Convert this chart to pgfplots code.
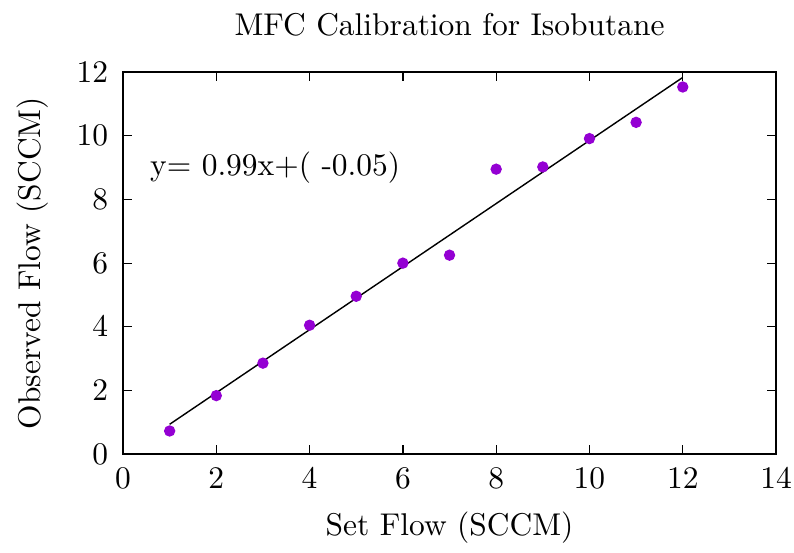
\documentclass[border=0pt]{standalone}
\usepackage{pgfplots}
\pgfplotsset{compat=1.18}
\definecolor{gpviolet}{RGB}{148,0,211}
\begin{document}
\begin{tikzpicture}
\begin{axis}[
  scale only axis,
  width=207.6pt, height=121.5pt,
  xmin=0, xmax=14, ymin=0, ymax=12,
  xtick={0,2,...,14}, ytick={0,2,...,12},
  tick align=inside,
  major tick length=3pt,
  axis line style={line width=0.5pt},
  every tick/.style={black, line width=0.4pt},
  every axis title shift=0pt,
  title={MFC Calibration for Isobutane},
  title style={at={(axis description cs:0.5,1)}, anchor=center, yshift=14.9pt},
  xlabel={Set Flow (SCCM)},
  ylabel={Observed Flow (SCCM)},
  xlabel style={at={(axis description cs:0.5,0)}, anchor=center, yshift=-23.2pt},
  ylabel style={at={(axis description cs:-0.1378,0.5)}, anchor=center},
  yticklabel style={xshift=-1.2pt},
  xticklabel style={yshift=-1pt},
  clip=false,
]
\addplot[black, line width=0.45pt] coordinates {(1,0.94) (12,11.83)};
\addplot[only marks, mark=*, mark size=1.6pt, color=gpviolet, mark options={draw=gpviolet, fill=gpviolet}] coordinates {
(1,0.73) (2,1.84) (3,2.86) (4,4.05) (5,4.96) (6,6.00) (7,6.25) (8,8.95) (9,9.02) (10,9.91) (11,10.42) (12,11.53)
};
\node[anchor=west, inner sep=0pt] at (axis cs:0.57,9.0) {y= 0.99x+( -0.05)};
\end{axis}
\path (current axis.south west) ++(-39.1pt,-31.2pt) coordinate (bbsw);
\path (current axis.north east) ++(5.7pt,22.9pt) coordinate (bbne);
\pgfresetboundingbox
\path[use as bounding box] (bbsw) rectangle (bbne);
\end{tikzpicture}
\end{document}
